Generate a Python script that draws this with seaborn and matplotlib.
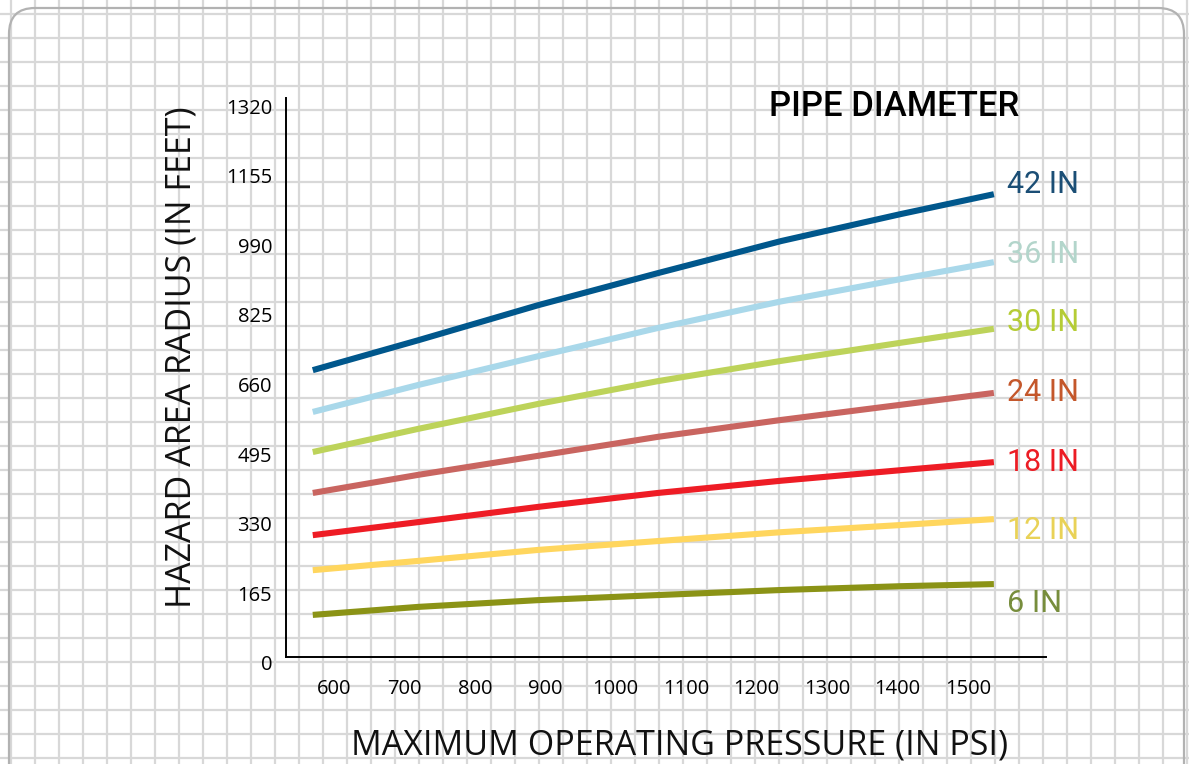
import numpy as np
import pandas as pd
import matplotlib
matplotlib.use("Agg")
import matplotlib.pyplot as plt
import seaborn as sns
from matplotlib.patches import FancyBboxPatch

# ---- data ----
pressure = [570, 720, 890, 1060, 1235, 1405, 1537]
r42 = [694, 765, 848, 924, 1000, 1064, 1111]
r36 = [595, 659, 727, 794, 857, 910, 950]
r30 = [500, 555, 614, 668, 716, 759, 792]
r24 = [403, 446, 491, 536, 576, 612, 640]
r18 = [303, 334, 370, 403, 432, 457, 476]
r12 = [220, 242, 268, 289, 310, 327, 341]
r6 = [114, 133, 149, 161, 173, 182, 187]
diameters = ["42 IN", "36 IN", "30 IN", "24 IN", "18 IN", "12 IN", "6 IN"]
series = [r42, r36, r30, r24, r18, r12, r6]
x_ticks = [600, 700, 800, 900, 1000, 1100, 1200, 1300, 1400, 1500]
y_ticks = [0, 165, 330, 495, 660, 825, 990, 1155, 1320]

# ---- styling ----
line_colors = ["#00578c", "#a9d8ea", "#bdd35a", "#c96560", "#ee1c25", "#ffd65e", "#8b9316"]
label_colors = ["#1b4e75", "#b3d5cb", "#b5cc35", "#c4572b", "#ec1c24", "#e9d257", "#778d3c"]
label_y = [1135, 969, 806, 642, 476, 313, 142]

rows = []
for d, vals in zip(diameters, series):
    for p, v in zip(pressure, vals):
        rows.append({"pressure": p, "radius": v, "diameter": d})
df = pd.DataFrame(rows)

sns.set_style("white")
plt.rcParams["font.family"] = ["Open Sans", "DejaVu Sans"]

fig = plt.figure(figsize=(11.89, 7.64), dpi=100)

# background graph paper
bg = fig.add_axes([0, 0, 1, 1], zorder=0)
bg.set_xlim(0, 1189)
bg.set_ylim(764, 0)
bg.set_xticks(np.arange(11, 1189, 24))
bg.set_yticks(np.arange(14, 764, 24))
bg.grid(True, color="#d8d8d8", lw=1.6)
bg.tick_params(length=0, labelbottom=False, labelleft=False)
for s in bg.spines.values():
    s.set_visible(False)
card = FancyBboxPatch((9, 8), 1175, 820, boxstyle="round,pad=0,rounding_size=26",
                      fill=False, ec="#b2b2b2", lw=1.6)
bg.add_patch(card)

# main chart
ax = fig.add_axes([286 / 1189, 101 / 764, 760 / 1189, 565 / 764], zorder=1)
ax.patch.set_alpha(0)
sns.lineplot(data=df, x="pressure", y="radius", hue="diameter",
             palette=dict(zip(diameters, line_colors)), hue_order=diameters,
             lw=4.4, ax=ax, legend=False, sort=True)
for ln in ax.lines:
    ln.set_solid_capstyle("butt")
    ln.set_solid_joinstyle("round")

ax.set_xlim(532, 1611)
ax.set_ylim(0, 1339)
for s in ["top", "right"]:
    ax.spines[s].set_visible(False)
ax.spines["left"].set_bounds(14, 1339)
ax.spines["bottom"].set_position(("data", 14))
for s in ["left", "bottom"]:
    ax.spines[s].set_color("black")
    ax.spines[s].set_linewidth(1.4)

ax.set_xticks(x_ticks)
ax.set_yticks(y_ticks)
ax.set_xticklabels([str(t) for t in x_ticks])
ax.set_yticklabels([str(t) for t in y_ticks])
ax.tick_params(axis="x", length=0, labelsize=14.5, pad=16, colors="black")
ax.tick_params(axis="y", length=0, labelsize=14.5, pad=10, colors="black")

ax.set_xlabel("MAXIMUM OPERATING PRESSURE (IN PSI)", fontsize=24.5, color="#111111")
ax.xaxis.set_label_coords((680 - 286) / 760, (663 - 745) / 565)
ax.xaxis.label.set_va("center")
ax.set_ylabel("HAZARD AREA RADIUS (IN FEET)", fontsize=24.5, color="#111111")
ax.yaxis.set_label_coords((182 - 286) / 760, (663 - 357) / 565)
ax.yaxis.label.set_va("center")

ax.text((769 - 286) / 760, (663 - 107) / 565, "PIPE DIAMETER", transform=ax.transAxes,
        ha="left", va="center", fontsize=25, fontweight="medium",
        family=["Roboto", "DejaVu Sans"], color="black")

for d, c, yv in zip(diameters, label_colors, label_y):
    ax.text(1556, yv, d, ha="left", va="center", fontsize=22, color=c,
            family=["Roboto", "DejaVu Sans"], clip_on=False)

fig.savefig("out.png", dpi=100)
